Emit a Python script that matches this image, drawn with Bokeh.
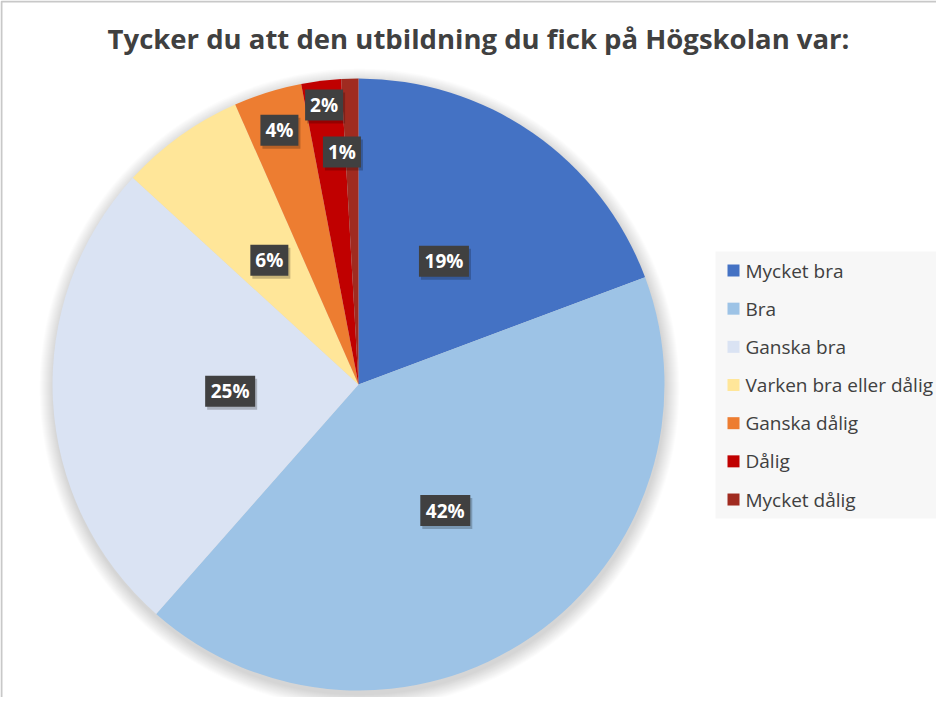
import math
from bokeh.plotting import figure
from bokeh.models import Range1d, ColumnDataSource
from bokeh.core.properties import value
from bokeh.embed import file_html
from bokeh.resources import INLINE

# ---- data ----
title_text = "Tycker du att den utbildning du fick på Högskolan var:"
categories = ["Mycket bra", "Bra", "Ganska bra", "Varken bra eller dålig",
              "Ganska dålig", "Dålig", "Mycket dålig"]
shares = [19.3, 42.2, 25.3, 6.6, 3.6, 2.1, 0.9]
pct_labels = ["19%", "42%", "25%", "6%", "4%", "2%", "1%"]
colors = ["#4472C4", "#9DC3E6", "#DAE3F3", "#FFE699", "#ED7D31", "#C00000", "#A02B20"]

# ---- layout ----
W, H = 936, 697
CX, CY, R = 358, 313, 306
label_frac = [0.49, 0.50, 0.42, 0.50, 0.87, 0.92, 0.76]
label_dx = [0, 0, 0, 0, 0, 0, -10]

p = figure(width=W, height=H, output_backend="svg", toolbar_location=None,
           x_range=Range1d(0, W), y_range=Range1d(0, H), min_border=0)
p.axis.visible = False
p.grid.visible = False
p.outline_line_color = None
p.background_fill_color = "white"
p.border_fill_color = "white"

# frame (left + top edges visible)
p.line([1, 1, W], [0, H - 1, H - 1], line_color="#C8C8C8", line_width=2)

# soft shadow
for i in range(14, 0, -1):
    p.circle(x=CX + 1, y=CY - 4, radius=R + i, fill_color="black",
             fill_alpha=0.012, line_color=None)

# wedges
total = sum(shares)
starts, ends, lx, ly = [], [], [], []
cum = 0.0
for s in shares:
    a0 = cum / total
    a1 = (cum + s) / total
    starts.append(math.pi / 2 - a0 * 2 * math.pi)
    ends.append(math.pi / 2 - a1 * 2 * math.pi)
    cum += s
src = ColumnDataSource(dict(start=starts, end=ends, color=colors, cat=categories))
p.wedge(x=CX, y=CY, radius=R, start_angle="start", end_angle="end",
        direction="clock", fill_color="color", line_color=None, source=src)

# data labels
cum = 0.0
for s, f, dx in zip(shares, label_frac, label_dx):
    mid = (cum + s / 2) / total * 2 * math.pi
    lx.append(CX + f * R * math.sin(mid) + dx)
    ly.append(CY + f * R * math.cos(mid))
    cum += s
lw = [14 + 12 * len(t) for t in pct_labels]
lsrc = ColumnDataSource(dict(x=lx, y=ly, w=lw, t=pct_labels,
                             sx=[v + 2 for v in lx], sy=[v - 3 for v in ly]))
p.rect(x="sx", y="sy", width="w", height=31, fill_color="black", fill_alpha=0.22,
       line_color=None, source=lsrc)
p.rect(x="x", y="y", width="w", height=31, fill_color="#404040",
       line_color=None, source=lsrc)
p.text(x="x", y="y", text="t", text_color="white", text_font=value("Open Sans"),
       text_font_style="bold", text_font_size="19px", text_align="center",
       text_baseline="middle", source=lsrc)

# title
p.text(x=[478], y=[659], text=[title_text], text_color="#404040",
       text_font=value("Open Sans"), text_font_style="bold", text_font_size="27.5px",
       text_align="center", text_baseline="middle")

# legend
p.rect(x=[(715 + W) / 2], y=[312.5], width=W - 715, height=267,
       fill_color="#F7F7F7", line_color=None)
ry = [427 - 38.17 * i for i in range(len(categories))]
legsrc = ColumnDataSource(dict(x=[733] * len(categories), tx=[745] * len(categories),
                               y=ry, c=colors, t=categories))
p.rect(x="x", y="y", width=12, height=12, fill_color="c", line_color=None, source=legsrc)
p.text(x="tx", y="y", text="t", text_color="#404040", text_font=value("Open Sans"),
       text_font_size="19px", text_baseline="middle", source=legsrc)

open("out.html", "w").write(file_html(p, INLINE))
